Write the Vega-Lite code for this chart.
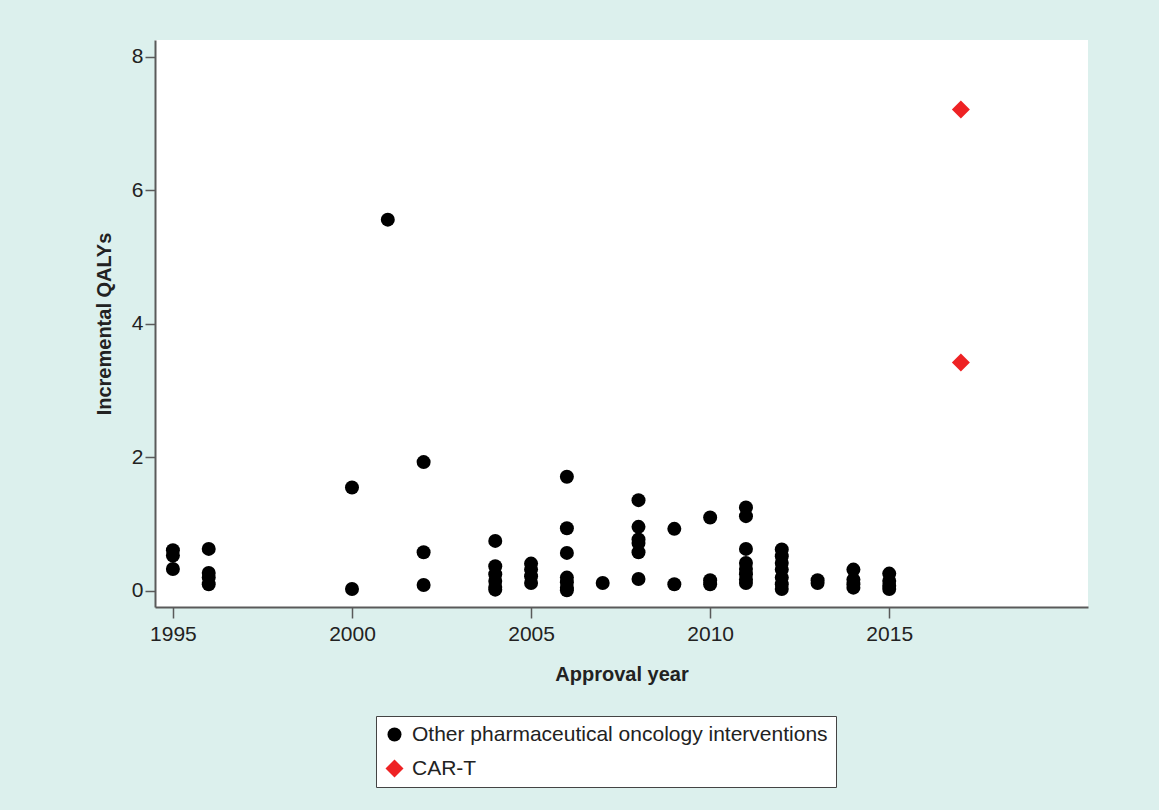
{
  "$schema": "https://vega.github.io/schema/vega-lite/v6.json",
  "width": 933,
  "height": 567,
  "autosize": {"type": "none"},
  "padding": {"left": 155, "top": 40, "right": 71, "bottom": 203},
  "background": "#dcf0ed",
  "config": {
    "view": {"fill": "#ffffff", "stroke": null},
    "font": "Liberation Sans",
    "legend": {
      "fillColor": "#ffffff", "strokeColor": "#444444", "padding": 8,
      "symbolStrokeWidth": 0, "labelFont": "Liberation Sans", "labelFontSize": 21, "labelColor": "#222222",
      "labelOffset": 7, "rowPadding": 12, "symbolOpacity": 1, "labelLimit": 600
    }
  },
  "data": {
    "values": [
      {"year": 1995, "qalys": 0.61, "type": "Other pharmaceutical oncology interventions"},
      {"year": 1995, "qalys": 0.53, "type": "Other pharmaceutical oncology interventions"},
      {"year": 1995, "qalys": 0.33, "type": "Other pharmaceutical oncology interventions"},
      {"year": 1996, "qalys": 0.63, "type": "Other pharmaceutical oncology interventions"},
      {"year": 1996, "qalys": 0.27, "type": "Other pharmaceutical oncology interventions"},
      {"year": 1996, "qalys": 0.2, "type": "Other pharmaceutical oncology interventions"},
      {"year": 1996, "qalys": 0.1, "type": "Other pharmaceutical oncology interventions"},
      {"year": 2000, "qalys": 1.55, "type": "Other pharmaceutical oncology interventions"},
      {"year": 2000, "qalys": 0.03, "type": "Other pharmaceutical oncology interventions"},
      {"year": 2001, "qalys": 5.56, "type": "Other pharmaceutical oncology interventions"},
      {"year": 2002, "qalys": 1.93, "type": "Other pharmaceutical oncology interventions"},
      {"year": 2002, "qalys": 0.58, "type": "Other pharmaceutical oncology interventions"},
      {"year": 2002, "qalys": 0.09, "type": "Other pharmaceutical oncology interventions"},
      {"year": 2004, "qalys": 0.75, "type": "Other pharmaceutical oncology interventions"},
      {"year": 2004, "qalys": 0.37, "type": "Other pharmaceutical oncology interventions"},
      {"year": 2004, "qalys": 0.25, "type": "Other pharmaceutical oncology interventions"},
      {"year": 2004, "qalys": 0.15, "type": "Other pharmaceutical oncology interventions"},
      {"year": 2004, "qalys": 0.06, "type": "Other pharmaceutical oncology interventions"},
      {"year": 2004, "qalys": 0.02, "type": "Other pharmaceutical oncology interventions"},
      {"year": 2005, "qalys": 0.41, "type": "Other pharmaceutical oncology interventions"},
      {"year": 2005, "qalys": 0.32, "type": "Other pharmaceutical oncology interventions"},
      {"year": 2005, "qalys": 0.22, "type": "Other pharmaceutical oncology interventions"},
      {"year": 2005, "qalys": 0.12, "type": "Other pharmaceutical oncology interventions"},
      {"year": 2006, "qalys": 1.71, "type": "Other pharmaceutical oncology interventions"},
      {"year": 2006, "qalys": 0.94, "type": "Other pharmaceutical oncology interventions"},
      {"year": 2006, "qalys": 0.57, "type": "Other pharmaceutical oncology interventions"},
      {"year": 2006, "qalys": 0.2, "type": "Other pharmaceutical oncology interventions"},
      {"year": 2006, "qalys": 0.13, "type": "Other pharmaceutical oncology interventions"},
      {"year": 2006, "qalys": 0.05, "type": "Other pharmaceutical oncology interventions"},
      {"year": 2006, "qalys": 0.01, "type": "Other pharmaceutical oncology interventions"},
      {"year": 2007, "qalys": 0.12, "type": "Other pharmaceutical oncology interventions"},
      {"year": 2008, "qalys": 1.36, "type": "Other pharmaceutical oncology interventions"},
      {"year": 2008, "qalys": 0.96, "type": "Other pharmaceutical oncology interventions"},
      {"year": 2008, "qalys": 0.77, "type": "Other pharmaceutical oncology interventions"},
      {"year": 2008, "qalys": 0.72, "type": "Other pharmaceutical oncology interventions"},
      {"year": 2008, "qalys": 0.58, "type": "Other pharmaceutical oncology interventions"},
      {"year": 2008, "qalys": 0.18, "type": "Other pharmaceutical oncology interventions"},
      {"year": 2009, "qalys": 0.93, "type": "Other pharmaceutical oncology interventions"},
      {"year": 2009, "qalys": 0.1, "type": "Other pharmaceutical oncology interventions"},
      {"year": 2010, "qalys": 1.1, "type": "Other pharmaceutical oncology interventions"},
      {"year": 2010, "qalys": 0.16, "type": "Other pharmaceutical oncology interventions"},
      {"year": 2010, "qalys": 0.1, "type": "Other pharmaceutical oncology interventions"},
      {"year": 2011, "qalys": 1.25, "type": "Other pharmaceutical oncology interventions"},
      {"year": 2011, "qalys": 1.12, "type": "Other pharmaceutical oncology interventions"},
      {"year": 2011, "qalys": 0.63, "type": "Other pharmaceutical oncology interventions"},
      {"year": 2011, "qalys": 0.42, "type": "Other pharmaceutical oncology interventions"},
      {"year": 2011, "qalys": 0.33, "type": "Other pharmaceutical oncology interventions"},
      {"year": 2011, "qalys": 0.25, "type": "Other pharmaceutical oncology interventions"},
      {"year": 2011, "qalys": 0.17, "type": "Other pharmaceutical oncology interventions"},
      {"year": 2011, "qalys": 0.12, "type": "Other pharmaceutical oncology interventions"},
      {"year": 2012, "qalys": 0.62, "type": "Other pharmaceutical oncology interventions"},
      {"year": 2012, "qalys": 0.52, "type": "Other pharmaceutical oncology interventions"},
      {"year": 2012, "qalys": 0.42, "type": "Other pharmaceutical oncology interventions"},
      {"year": 2012, "qalys": 0.32, "type": "Other pharmaceutical oncology interventions"},
      {"year": 2012, "qalys": 0.2, "type": "Other pharmaceutical oncology interventions"},
      {"year": 2012, "qalys": 0.1, "type": "Other pharmaceutical oncology interventions"},
      {"year": 2012, "qalys": 0.03, "type": "Other pharmaceutical oncology interventions"},
      {"year": 2013, "qalys": 0.16, "type": "Other pharmaceutical oncology interventions"},
      {"year": 2013, "qalys": 0.12, "type": "Other pharmaceutical oncology interventions"},
      {"year": 2014, "qalys": 0.32, "type": "Other pharmaceutical oncology interventions"},
      {"year": 2014, "qalys": 0.17, "type": "Other pharmaceutical oncology interventions"},
      {"year": 2014, "qalys": 0.1, "type": "Other pharmaceutical oncology interventions"},
      {"year": 2014, "qalys": 0.05, "type": "Other pharmaceutical oncology interventions"},
      {"year": 2015, "qalys": 0.26, "type": "Other pharmaceutical oncology interventions"},
      {"year": 2015, "qalys": 0.15, "type": "Other pharmaceutical oncology interventions"},
      {"year": 2015, "qalys": 0.08, "type": "Other pharmaceutical oncology interventions"},
      {"year": 2015, "qalys": 0.03, "type": "Other pharmaceutical oncology interventions"},
      {"year": 2017, "qalys": 7.21, "type": "CAR-T"},
      {"year": 2017, "qalys": 3.42, "type": "CAR-T"}
    ]
  },
  "mark": {"type": "point", "filled": true, "opacity": 1},
  "encoding": {
    "x": {
      "field": "year", "type": "quantitative",
      "scale": {"domain": [1994.5, 2020.55], "nice": false, "zero": false},
      "axis": {
        "title": "Approval year", "values": [1995, 2000, 2005, 2010, 2015], "format": "d",
        "grid": false, "domainColor": "#5a5a5a", "domainWidth": 2, "tickColor": "#5a5a5a", "tickWidth": 1.5, "tickSize": 11,
        "labelFont": "Liberation Sans", "labelFontSize": 21, "labelColor": "#222222", "labelPadding": 5,
        "titleFont": "Liberation Sans", "titleFontSize": 20, "titleFontWeight": "bold", "titleColor": "#222222", "titlePadding": 20
      }
    },
    "y": {
      "field": "qalys", "type": "quantitative",
      "scale": {"domain": [-0.24, 8.25], "nice": false, "zero": false},
      "axis": {
        "title": "Incremental QALYs", "values": [0, 2, 4, 6, 8],
        "grid": false, "domainColor": "#5a5a5a", "domainWidth": 2, "tickColor": "#5a5a5a", "tickWidth": 1.5, "tickSize": 10,
        "labelFont": "Liberation Sans", "labelFontSize": 21, "labelColor": "#222222", "labelPadding": 2,
        "titleFont": "Liberation Sans", "titleFontSize": 20, "titleFontWeight": "bold", "titleColor": "#222222", "titlePadding": 17
      }
    },
    "shape": {
      "field": "type", "type": "nominal",
      "scale": {"domain": ["Other pharmaceutical oncology interventions", "CAR-T"], "range": ["circle", "diamond"]},
      "legend": {"title": null, "orient": "none", "legendX": 221, "legendY": 676}
    },
    "color": {
      "field": "type", "type": "nominal",
      "scale": {"domain": ["Other pharmaceutical oncology interventions", "CAR-T"], "range": ["#000000", "#ee2224"]},
      "legend": {"title": null, "orient": "none", "legendX": 221, "legendY": 676}
    },
    "size": {
      "field": "type", "type": "nominal",
      "scale": {"domain": ["Other pharmaceutical oncology interventions", "CAR-T"], "range": [196, 324]},
      "legend": {"title": null, "orient": "none", "legendX": 221, "legendY": 676}
    }
  }
}
